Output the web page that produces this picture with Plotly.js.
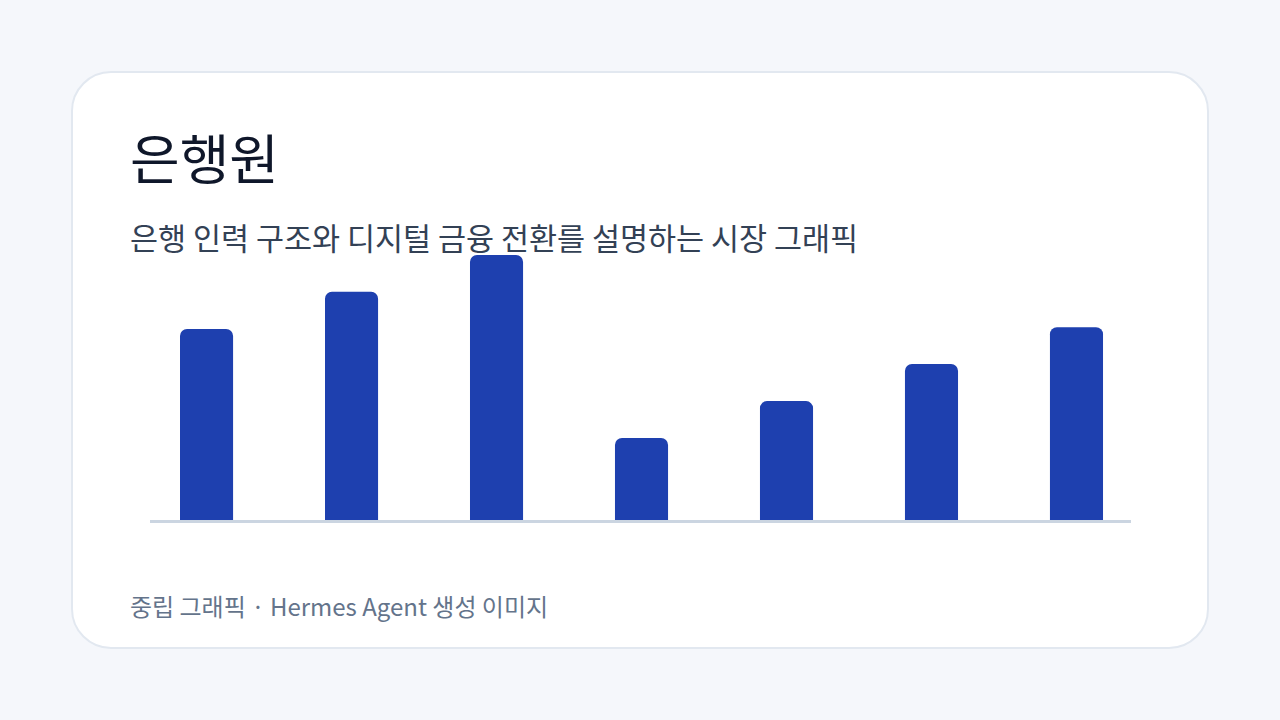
<!DOCTYPE html>
<html>
<head>
<meta charset="utf-8">
<script src="https://cdn.plot.ly/plotly-3.0.1.min.js"></script>
<style>
  html, body { margin: 0; padding: 0; width: 1280px; height: 720px; background: #f5f7fb; overflow: hidden; }
  #card { position: absolute; left: 71px; top: 71px; width: 1134px; height: 574px; background: #ffffff; border: 2px solid #e2e8f0; border-radius: 40px; }
  #chart { position: absolute; left: 0; top: 0; width: 1280px; height: 720px; }
</style>
</head>
<body>
<div id="card"></div>
<div id="chart"></div>
<script>
const categories = ['A', 'B', 'C', 'D', 'E', 'F', 'G'];
const values = [51.9, 62.0, 72.0, 22.3, 32.3, 42.4, 52.4];
const titleText = '은행원';
const subtitleText = '은행 인력 구조와 디지털 금융 전환를 설명하는 시장 그래픽';
const footerText = '중립 그래픽 · Hermes Agent 생성 이미지';

const FONT = '"Noto Sans CJK KR", "Noto Sans", sans-serif';

const trace = {
  type: 'bar',
  x: categories,
  y: values,
  width: 0.366,
  marker: { color: '#1e40af', cornerradius: 7, line: { width: 0 } },
  hoverinfo: 'skip'
};

const layout = {
  width: 1280,
  height: 720,
  margin: { l: 150, r: 149, t: 250, b: 200 },
  paper_bgcolor: 'rgba(0,0,0,0)',
  plot_bgcolor: 'rgba(0,0,0,0)',
  showlegend: false,
  font: { family: FONT },
  title: {
    text: titleText,
    x: 130 / 1280,
    xanchor: 'left',
    xref: 'container',
    y: 1 - 161 / 720,
    yref: 'container',
    yanchor: 'middle',
    font: { family: FONT, size: 54, color: '#0f172a' }
  },
  xaxis: {
    type: 'category',
    range: [-0.39, 6.376],
    showticklabels: false,
    showgrid: false,
    zeroline: false,
    showline: true,
    linecolor: '#cbd5e1',
    linewidth: 2.5,
    ticks: '',
    layer: 'below traces',
    fixedrange: true
  },
  yaxis: {
    range: [0, 73.36],
    showticklabels: false,
    showgrid: false,
    zeroline: false,
    showline: false,
    ticks: '',
    fixedrange: true
  },
  annotations: [
    {
      text: subtitleText,
      xref: 'paper', yref: 'paper',
      x: (128 - 150) / 981, xanchor: 'left',
      y: (520 - 237) / 270, yanchor: 'middle',
      showarrow: false,
      font: { family: FONT, size: 30.5, color: '#334155' }
    },
    {
      text: footerText,
      xref: 'paper', yref: 'paper',
      x: (128 - 150) / 981, xanchor: 'left',
      y: (520 - 605) / 270, yanchor: 'middle',
      showarrow: false,
      font: { family: FONT, size: 24, color: '#64748b' }
    }
  ]
};

Plotly.newPlot('chart', [trace], layout, { displayModeBar: false, staticPlot: true });
</script>
</body>
</html>
